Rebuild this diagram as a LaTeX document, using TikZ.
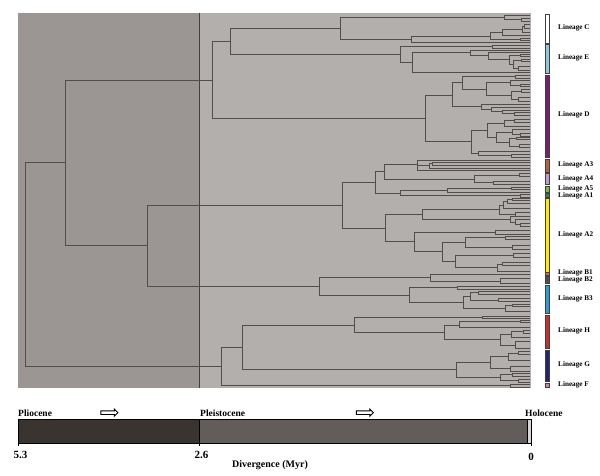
\documentclass[tikz,border=0pt]{standalone}
\usepackage{fontspec}
\setmainfont{Liberation Serif}
\usetikzlibrary{shapes.arrows}
\definecolor{olderband}{HTML}{9B9693}
\definecolor{youngerband}{HTML}{B3AFAC}
\definecolor{treeline}{HTML}{524D4A}
\definecolor{plioc}{HTML}{3A3431}
\definecolor{pleist}{HTML}{625D5A}
\definecolor{holoc}{HTML}{D8D6D4}
\definecolor{linE}{HTML}{8CC8E0}
\definecolor{linD}{HTML}{7E1B6F}
\definecolor{linAiii}{HTML}{B5603A}
\definecolor{linAiv}{HTML}{C39BC9}
\definecolor{linAv}{HTML}{7DBA3E}
\definecolor{linAi}{HTML}{2E7D5A}
\definecolor{linAii}{HTML}{FFEB00}
\definecolor{linBi}{HTML}{D9702A}
\definecolor{linBii}{HTML}{505050}
\definecolor{linBiii}{HTML}{2A9BD8}
\definecolor{linH}{HTML}{C8302A}
\definecolor{linG}{HTML}{22237A}
\definecolor{linF}{HTML}{E0808A}
\tikzset{
  branch/.style={draw=treeline, line width=0.5pt},
  lineagebar/.style={draw=black!75, line width=0.4pt},
  lineagelabel/.style={anchor=west, inner sep=0pt, font=\bfseries\fontsize{7.2}{7.2}\selectfont},
  epochlabel/.style={inner sep=0pt, font=\bfseries\fontsize{9.5}{9.5}\selectfont},
  agelabel/.style={inner sep=0pt, font=\bfseries\fontsize{11}{11}\selectfont},
  timearrow/.style={single arrow, draw=black, fill=white, line width=0.9pt, minimum height=17pt,
    minimum width=7pt, single arrow head extend=1.6pt, inner sep=1.2pt}
}
\newcommand{\clade}[5]{\draw[branch] (#4,#2) -- (#1,#2) -- (#1,#3) -- (#5,#3);}
\newcommand{\xtip}{530}

\begin{document}
\begin{tikzpicture}[x=1pt, y=-1pt]
  \useasboundingbox (0,0) rectangle (600,475);
  \fill[white] (0,0) rectangle (600,475);
  % time bands behind the tree
  \fill[youngerband] (18,12.7) rectangle (531,388);
  \fill[olderband] (18,12.7) rectangle (199,388);
  \draw[treeline!80!black, line width=0.9pt] (199,12.7) -- (199,388);

  % backbone
  \clade{25.7}{162.7}{366}{65}{221}
  \clade{65}{80}{245.3}{212}{147}
  \clade{212}{41.7}{118.3}{230}{425.3}
  \clade{230}{28.7}{54.3}{340.3}{400}
  \clade{147}{205.3}{286.7}{342.3}{319.3}
  \clade{221}{347.3}{385.7}{242}{510}
  \clade{242}{325}{369.3}{354.3}{456}

  % lineage C
  \clade{340.3}{17.3}{39.3}{504}{411.7}
  \clade{504}{15.5}{19.5}{\xtip}{521}
  \clade{521}{18}{21.5}{\xtip}{\xtip}
  \clade{411.7}{36.7}{42.3}{490}{\xtip}
  \clade{490}{32.7}{39.3}{502.3}{520.7}
  \clade{502.3}{29.3}{35.7}{522}{\xtip}
  \clade{522}{26.5}{32}{524}{\xtip}
  \clade{524}{24}{28.5}{\xtip}{\xtip}
  \clade{520.7}{38}{40.5}{\xtip}{\xtip}

  % lineage E
  \clade{400}{46.7}{62.7}{492}{412.3}
  \clade{492}{45}{48.5}{\xtip}{\xtip}
  \clade{412.3}{52.7}{72.7}{470.3}{\xtip}
  \clade{470.3}{50.5}{55.7}{\xtip}{488}
  \clade{488}{52.5}{59}{\xtip}{509}
  \clade{509}{55.5}{64}{520}{513}
  \clade{520}{54.5}{56.5}{\xtip}{\xtip}
  \clade{513}{60}{68}{521}{518}
  \clade{521}{59}{61}{\xtip}{\xtip}
  \clade{518}{66}{70}{\xtip}{\xtip}

  % lineage D
  \clade{425.3}{95}{141.7}{452.3}{471.7}
  \clade{452.3}{82.7}{106.7}{462.3}{481.3}
  \clade{462.3}{76.7}{89}{515.7}{486}
  \clade{515.7}{75.5}{78}{\xtip}{\xtip}
  \clade{486}{82.7}{95.3}{510}{511}
  \clade{510}{80.5}{85}{\xtip}{520}
  \clade{520}{84}{86.5}{\xtip}{\xtip}
  \clade{511}{91}{99.5}{521}{518}
  \clade{521}{89.5}{92.5}{\xtip}{\xtip}
  \clade{518}{97.5}{101.5}{\xtip}{\xtip}
  \clade{481.3}{104}{109.5}{\xtip}{491}
  \clade{491}{107.5}{111.5}{\xtip}{502}
  \clade{502}{110}{113}{\xtip}{514}
  \clade{514}{112}{115}{\xtip}{\xtip}
  \clade{471.7}{130}{153.3}{487.3}{478.3}
  \clade{487.3}{123.5}{137}{504}{496}
  \clade{504}{120.5}{126.5}{514}{\xtip}
  \clade{514}{119}{122}{\xtip}{\xtip}
  \clade{496}{132}{142}{512}{509}
  \clade{512}{129.5}{134.5}{\xtip}{520}
  \clade{520}{133.5}{135.8}{\xtip}{\xtip}
  \clade{509}{138}{146}{516}{519}
  \clade{516}{136.8}{139.5}{\xtip}{\xtip}
  \clade{519}{144.5}{147.5}{\xtip}{\xtip}
  \clade{478.3}{151.7}{155.7}{\xtip}{511.7}
  \clade{511.7}{154.5}{157}{\xtip}{\xtip}

  % lineages A3, A4, A5, A1
  \clade{342.3}{182.3}{228.3}{375}{385.7}
  \clade{375}{171.7}{193.3}{384}{400.3}
  \clade{384}{164.3}{179.3}{417.3}{474.3}
  \clade{417.3}{160.5}{170.5}{\xtip}{\xtip}
  \draw[branch] (417.3,165.5) -- (429,165.5);
  \clade{429}{163.5}{167.8}{432.3}{\xtip}
  \clade{432.3}{162}{165}{\xtip}{\xtip}
  \clade{474.3}{175}{182.7}{519}{493.3}
  \clade{519}{173.5}{176.5}{\xtip}{\xtip}
  \clade{493.3}{181.5}{184}{\xtip}{\xtip}
  \clade{400.3}{190.7}{195.7}{447.3}{520}
  \clade{447.3}{188.5}{192.5}{511.7}{\xtip}
  \clade{511.7}{187.3}{189.7}{\xtip}{\xtip}
  \clade{520}{194.5}{196.8}{\xtip}{\xtip}

  % lineage A2
  \clade{385.7}{214.3}{241.7}{422.3}{414.3}
  \clade{422.3}{209.3}{219.3}{499.7}{510}
  \clade{499.7}{205}{214}{503}{515}
  \clade{503}{201.5}{208.5}{507}{\xtip}
  \clade{507}{199.5}{203.5}{512}{\xtip}
  \clade{512}{198.5}{200.5}{\xtip}{\xtip}
  \clade{515}{212}{216}{\xtip}{\xtip}
  \clade{510}{216.5}{222}{\xtip}{515}
  \clade{515}{219.5}{224.5}{\xtip}{520}
  \clade{520}{223}{226.5}{\xtip}{\xtip}
  \clade{414.3}{232.3}{251.7}{495}{442.7}
  \clade{495}{230.5}{234}{\xtip}{\xtip}
  \clade{442.7}{242}{261}{465}{455.3}
  \clade{465}{237.7}{247.3}{505}{512}
  \clade{505}{236}{239.5}{\xtip}{\xtip}
  \clade{512}{245}{249.5}{\xtip}{\xtip}
  \clade{455.3}{255}{267.7}{513}{497}
  \clade{513}{253}{257}{\xtip}{\xtip}
  \clade{497}{264}{271}{502}{\xtip}
  \clade{502}{262.5}{265.5}{\xtip}{\xtip}

  % lineages B1, B2, B3
  \clade{319.3}{277.3}{295}{430.7}{409}
  \clade{430.7}{274.3}{281}{\xtip}{500}
  \clade{500}{278.5}{283}{\xtip}{\xtip}
  \clade{409}{287.3}{302.7}{457.7}{463.3}
  \clade{457.7}{286}{288.8}{\xtip}{\xtip}
  \clade{463.3}{296.7}{308.3}{470.7}{505}
  \clade{470.7}{292.3}{300}{478}{498}
  \clade{478}{290.8}{293.8}{\xtip}{\xtip}
  \clade{498}{298.5}{301.5}{\xtip}{\xtip}
  \clade{505}{305}{311}{512}{\xtip}
  \clade{512}{303.8}{306.2}{\xtip}{\xtip}

  % lineage H
  \clade{354.3}{317.3}{332.3}{482.3}{444.3}
  \clade{482.3}{316}{318.6}{\xtip}{\xtip}
  \clade{444.3}{325}{339.3}{459.7}{500.3}
  \clade{459.7}{321}{327.3}{520}{\xtip}
  \clade{520}{319.8}{322.2}{\xtip}{\xtip}
  \clade{500.3}{334.3}{345}{511}{515}
  \clade{511}{331.5}{337}{523}{\xtip}
  \clade{523}{330}{333}{\xtip}{\xtip}
  \clade{515}{341.5}{348.5}{\xtip}{\xtip}

  % lineages G, F
  \clade{456}{362.3}{377.3}{490.7}{500.7}
  \clade{490.7}{356.7}{368.7}{508.7}{510}
  \clade{508.7}{353}{360.4}{518}{\xtip}
  \clade{518}{351.5}{354.5}{\xtip}{\xtip}
  \clade{510}{366}{371.4}{\xtip}{\xtip}
  \clade{500.7}{374}{380.6}{512}{518}
  \clade{512}{373.4}{376}{\xtip}{\xtip}
  \clade{518}{379.3}{382}{\xtip}{\xtip}
  \clade{510}{384.3}{387}{\xtip}{\xtip}

  % lineage bars and names
  \foreach \ytop/\ybot/\col/\ymid/\lin in {14/43/white/28/C, 44/73/linE/58/E, 75/157/linD/115/D,
      159/172/linAiii/164.5/A3, 173/184/linAiv/178.5/A4, 186/192.5/linAv/188.4/A5,
      193/196.8/linAi/195.4/A1, 198/271.7/linAii/235/A2, 272.3/275.3/linBi/272.9/B1,
      276/283/linBii/279.9/B2, 285/313/linBiii/299/B3, 315/348/linH/331/H,
      350/380.7/linG/365/G, 382.7/387/linF/384.8/F}{
    \filldraw[lineagebar, fill=\col] (545,\ytop) rectangle (549.5,\ybot);
    \node[lineagelabel] (lin-\lin) at (558,\ymid) {Lineage \lin};
  }

  % geological time bar
  \fill[plioc] (18,419) rectangle (199,443);
  \fill[pleist] (199,419) rectangle (527.5,443);
  \fill[holoc] (527.5,419) rectangle (531.5,443);
  \draw[black, line width=1pt] (18,419) rectangle (531.5,443);
  \draw[black, line width=1pt] (199,419) -- (199,446) (527.5,419) -- (527.5,443);
  \draw[black, line width=1pt] (18,443) -- (18,446) (531.5,443) -- (531.5,446);
  \node[epochlabel, anchor=south west] (pliocene) at (18,416.5) {Pliocene};
  \node[epochlabel, anchor=south west] (pleistocene) at (200,416.5) {Pleistocene};
  \node[epochlabel, anchor=south west] (holocene) at (525,416.5) {Holocene};
  \node[timearrow] (arrow-plio) at (108.5,412.7) {};
  \node[timearrow] (arrow-pleist) at (364,412.7) {};
  \node[agelabel] (age-53) at (20.5,455) {5.3};
  \node[agelabel] (age-26) at (201.5,455) {2.6};
  \node[agelabel] (age-0) at (531,457) {0};
  \node[epochlabel, font=\bfseries\fontsize{10}{10}\selectfont] (axis-title) at (270,465) {Divergence (Myr)};
\end{tikzpicture}
\end{document}
